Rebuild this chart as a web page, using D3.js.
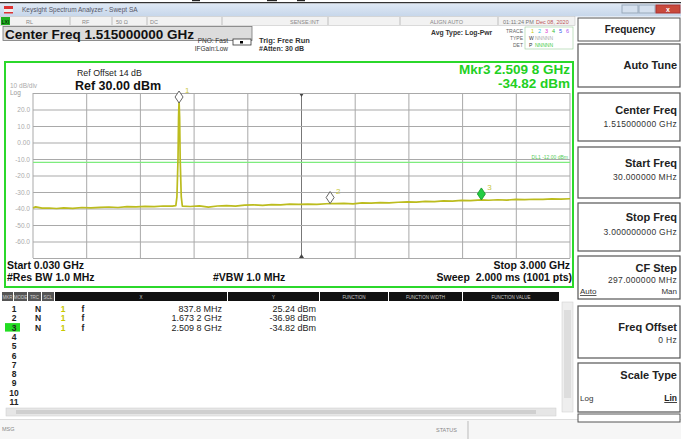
<!DOCTYPE html>
<html><head><meta charset="utf-8">
<script src="https://cdn.jsdelivr.net/npm/d3@7"></script>
<style>
html,body{margin:0;padding:0;background:#fff;}
svg{display:block;font-family:"Liberation Sans",Arial,sans-serif;}
</style></head>
<body>
<script>
// ---------- data ----------
const traceFreqGHz = [0.030,0.045,0.080,0.120,0.160,0.200,0.250,0.300,0.350,0.400,0.450,0.500,0.550,0.600,0.650,0.700,0.750,0.800,0.820,0.826,0.832,0.835,0.8378,0.841,0.844,0.850,0.856,0.900,0.950,1.000,1.050,1.100,1.150,1.200,1.250,1.300,1.350,1.400,1.450,1.500,1.550,1.600,1.6732,1.700,1.750,1.800,1.850,1.900,1.950,2.000,2.050,2.100,2.150,2.200,2.250,2.300,2.350,2.400,2.450,2.5098,2.550,2.600,2.650,2.700,2.750,2.800,2.850,2.900,2.950,3.000];
const traceDbm = [-39.6,-39.0,-39.8,-39.7,-40.0,-39.6,-39.9,-39.4,-39.6,-39.3,-39.1,-39.4,-38.9,-39.0,-38.7,-38.9,-38.5,-38.6,-38.3,-33.0,-10.0,15.0,25.24,15.0,-10.0,-33.0,-38.6,-38.8,-38.4,-39.2,-38.5,-38.3,-38.6,-38.0,-37.8,-38.1,-37.6,-37.8,-37.4,-37.5,-37.3,-37.5,-36.98,-37.1,-36.9,-37.2,-36.6,-36.8,-36.4,-36.6,-36.2,-36.0,-36.1,-35.7,-35.8,-35.4,-35.5,-35.1,-35.2,-34.82,-35.0,-34.7,-34.9,-34.5,-34.6,-34.4,-34.5,-34.2,-34.3,-34.1];
const markerNums = [1,2,3];
const markerFreqGHz = [0.8378,1.6732,2.5098];
const markerDbm = [25.24,-36.98,-34.82];
const markerXText = ["837.8 MHz","1.673 2 GHz","2.509 8 GHz"];
const markerYText = ["25.24 dBm","-36.98 dBm","-34.82 dBm"];
const yTickValues = [30,20,10,0,-10,-20,-30,-40,-50,-60,-70];
const yTickLabels = ["","20.0","10.0","0.00","-10.0","-20.0","-30.0","-40.0","-50.0","-60.0",""];
const startGHz = 0.030, stopGHz = 3.000;
const displayLineDbm = -12;
const softkeys = [
  {label:"Auto Tune", value:""},
  {label:"Center Freq", value:"1.515000000 GHz"},
  {label:"Start Freq", value:"30.000000 MHz"},
  {label:"Stop Freq", value:"3.000000000 GHz"},
  {label:"CF Step", value:"297.000000 MHz"},
  {label:"Freq Offset", value:"0 Hz"},
  {label:"Scale Type", value:""}
];
const tableHeaders = ["MKR","MODE","TRC","SCL","X","Y","FUNCTION","FUNCTION WIDTH","FUNCTION VALUE"];

// ---------- drawing ----------
const W = 681, H = 439;
const svg = d3.select("body").append("svg").attr("width",W).attr("height",H);
svg.append("rect").attr("width",W).attr("height",H).attr("fill","#fff");

// top document marks
svg.append("rect").attr("x",0).attr("y",2).attr("width",W).attr("height",1.5).attr("fill","#333");
[[192,8],[267,10],[297,8]].forEach(d=>svg.append("rect").attr("x",d[0]).attr("y",0).attr("width",d[1]).attr("height",1.2).attr("fill","#222"));

// title bar
const g0 = svg.append("defs").append("linearGradient").attr("id","tb").attr("x1",0).attr("x2",0).attr("y1",0).attr("y2",1);
g0.append("stop").attr("offset","0").attr("stop-color","#dfe9f5");
g0.append("stop").attr("offset","1").attr("stop-color","#c6d6ea");
svg.append("rect").attr("x",0).attr("y",3.5).attr("width",W).attr("height",13).attr("fill","url(#tb)");
svg.append("rect").attr("x",4).attr("y",6).attr("width",9).attr("height",3).attr("fill","#d33");
svg.append("rect").attr("x",4).attr("y",9).attr("width",9).attr("height",3).attr("fill","#eee");
svg.append("rect").attr("x",4).attr("y",12).attr("width",9).attr("height",1.5).attr("fill","#d33");
svg.append("text").attr("x",22).attr("y",12).attr("font-size",6.5).attr("fill","#556").text("Keysight Spectrum Analyzer - Swept SA");
svg.append("rect").attr("x",622).attr("y",5).attr("width",16).attr("height",8).attr("fill","#d5e0ee").attr("stroke","#9ab");
svg.append("rect").attr("x",639).attr("y",5).attr("width",16).attr("height",8).attr("fill","#d5e0ee").attr("stroke","#9ab");
svg.append("rect").attr("x",656).attr("y",5).attr("width",24).attr("height",8).attr("fill","#c9493b").attr("stroke","#a33");
svg.append("text").attr("x",668).attr("y",11.5).attr("text-anchor","middle").attr("font-size",7).attr("font-weight","bold").attr("fill","#fff").text("x");

// status row
svg.append("rect").attr("x",0).attr("y",16.5).attr("width",575).attr("height",9).attr("fill","#f2f2f2").attr("stroke","#bbb").attr("stroke-width",0.5);
svg.append("rect").attr("x",1).attr("y",17).attr("width",9).attr("height",8).attr("fill","#1fae1f");
svg.append("text").attr("x",5.5).attr("y",23.5).attr("text-anchor","middle").attr("font-size",5).attr("fill","#000").text("LXI");
[[70],[112],[147],[222],[328],[400],[498]].forEach(d=>svg.append("line").attr("x1",d[0]).attr("x2",d[0]).attr("y1",17).attr("y2",25).attr("stroke","#aaa").attr("stroke-width",0.7));
const srow = [[26,"RL"],[82,"RF"],[116,"50 Ω"],[150,"DC"],[290,"SENSE:INT"],[430,"ALIGN AUTO"]];
srow.forEach(d=>svg.append("text").attr("x",d[0]).attr("y",23.5).attr("font-size",5.5).attr("fill","#888").text(d[1]));
svg.append("text").attr("x",503).attr("y",23.5).attr("font-size",5.5).attr("fill","#777").text("01:11:24 PM");
svg.append("text").attr("x",536).attr("y",23.5).attr("font-size",5.5).attr("fill","#b55").text("Dec 08, 2020");

// Center freq box
svg.append("rect").attr("x",3).attr("y",26.5).attr("width",249).attr("height",14).attr("fill","#dcdcdc").attr("stroke","#777").attr("stroke-width",0.8);
svg.append("text").attr("x",5).attr("y",38.5).attr("font-size",13.5).attr("font-weight","bold").attr("fill","#111").text("Center Freq 1.515000000 GHz");

svg.append("text").attr("x",228).attr("y",43).attr("text-anchor","end").attr("font-size",6.5).attr("fill","#333").text("PNO: Fast");
svg.append("text").attr("x",228).attr("y",50.5).attr("text-anchor","end").attr("font-size",6.5).attr("fill","#333").text("IFGain:Low");
svg.append("rect").attr("x",233).attr("y",39).attr("width",18).attr("height",6).attr("fill","#fff").attr("stroke","#333").attr("stroke-width",0.8);
svg.append("rect").attr("x",240).attr("y",41).attr("width",3).attr("height",2.5).attr("fill","#000");
svg.append("text").attr("x",259).attr("y",43).attr("font-size",7.5).attr("font-weight","bold").attr("fill","#333").text("Trig: Free Run");
svg.append("text").attr("x",259).attr("y",51).attr("font-size",7).attr("font-weight","bold").attr("fill","#333").text("#Atten: 30 dB");
svg.append("text").attr("x",431).attr("y",35).attr("font-size",6.8).attr("font-weight","bold").attr("fill","#333").text("Avg Type: Log-Pwr");

// trace indicator
svg.append("text").attr("x",523).attr("y",33).attr("text-anchor","end").attr("font-size",5).attr("fill","#666").text("TRACE");
svg.append("text").attr("x",523).attr("y",40).attr("text-anchor","end").attr("font-size",5).attr("fill","#666").text("TYPE");
svg.append("text").attr("x",523).attr("y",47).attr("text-anchor","end").attr("font-size",5).attr("fill","#666").text("DET");
svg.append("rect").attr("x",525).attr("y",27).attr("width",48).attr("height",22).attr("fill","#fff").attr("stroke","#9c9").attr("stroke-width",0.6);
const tcol = ["#c8c800","#22bbdd","#dd33cc","#33bb33","#3355ee","#aa55ee"];
tcol.forEach((c,i)=>svg.append("text").attr("x",531+i*7).attr("y",33).attr("font-size",5.5).attr("fill",c).text(i+1));
svg.append("text").attr("x",529).attr("y",40).attr("font-size",5).attr("fill","#333").text("W");
svg.append("text").attr("x",535).attr("y",40).attr("font-size",5).attr("fill","#aaa").text("NNNNN");
svg.append("text").attr("x",529).attr("y",47).attr("font-size",5).attr("fill","#333").text("P");
svg.append("text").attr("x",535).attr("y",47).attr("font-size",5).attr("fill","#4c4").text("NNNNN");

// ---------- plot ----------
const x = d3.scaleLinear().domain([startGHz,stopGHz]).range([33,570]);
const y = d3.scaleLinear().domain([-70,30]).range([258,93]);

svg.append("rect").attr("x",5).attr("y",62).attr("width",568).attr("height",225).attr("fill","none").attr("stroke","#2bd82b").attr("stroke-width",2);

svg.append("text").attr("x",77).attr("y",76).attr("font-size",8.8).attr("fill","#222").text("Ref Offset 14 dB");
svg.append("text").attr("x",75).attr("y",90).attr("font-size",12.5).attr("font-weight","bold").attr("fill","#111").text("Ref 30.00 dBm");
svg.append("text").attr("x",10).attr("y",88).attr("font-size",6.5).attr("fill","#aaa").text("10 dB/div");
svg.append("text").attr("x",10).attr("y",95).attr("font-size",6.5).attr("fill","#999").text("Log");

svg.append("text").attr("x",570).attr("y",74).attr("text-anchor","end").attr("font-size",13.5).attr("font-weight","bold").attr("fill","#22d022").text("Mkr3 2.509 8 GHz");
svg.append("text").attr("x",570).attr("y",88).attr("text-anchor","end").attr("font-size",13.5).attr("font-weight","bold").attr("fill","#22d022").text("-34.82 dBm");

// vertical grid (10 divisions)
const xDiv = d3.range(0,11).map(i=>startGHz + i*(stopGHz-startGHz)/10);
svg.append("g").selectAll("line").data(xDiv).join("line")
  .attr("x1",d=>x(d)).attr("x2",d=>x(d)).attr("y1",y(30)).attr("y2",y(-70))
  .attr("stroke",(d,i)=>i===5?"#777":"#a9a9a9").attr("stroke-width",1);
const cx = x(xDiv[5]);
svg.append("path").attr("d",`M${cx-2.5},${y(30)}L${cx+2.5},${y(30)}L${cx},${y(30)+4}Z`).attr("fill","#444");
svg.append("path").attr("d",`M${cx-2.5},${y(-70)}L${cx+2.5},${y(-70)}L${cx},${y(-70)-4}Z`).attr("fill","#444");

// y axis with horizontal grid
const yAxis = d3.axisLeft(y).tickValues(yTickValues).tickSize(-(570-33)).tickPadding(3)
  .tickFormat((d,i)=>yTickLabels[i]);
const ga = svg.append("g").attr("transform","translate(33,0)").call(yAxis);
ga.select(".domain").remove();
ga.selectAll(".tick line").attr("stroke","#a9a9a9").attr("stroke-width",1);
ga.selectAll(".tick text").attr("font-size",6.5).attr("fill","#aaa").attr("font-family","Liberation Sans, Arial, sans-serif");

// display line
svg.append("line").attr("x1",33).attr("x2",570).attr("y1",y(displayLineDbm)).attr("y2",y(displayLineDbm)).attr("stroke","#7eec7e").attr("stroke-width",1.3);
svg.append("text").attr("x",568).attr("y",y(displayLineDbm)-3).attr("text-anchor","end").attr("font-size",5).attr("fill","#5c5").text("DL1 -12.00 dBm");

// trace
const pts = traceFreqGHz.map((f,i)=>[f,traceDbm[i]]);
svg.append("path").datum(pts)
  .attr("d",d3.line().x(d=>x(d[0])).y(d=>y(d[1])))
  .attr("fill","none").attr("stroke","#bcbc1e").attr("stroke-width",1.7).attr("stroke-linejoin","round");

// markers
markerNums.forEach((n,i)=>{
  const px = x(markerFreqGHz[i]), py = Math.max(y(markerDbm[i]), y(30)+10);
  const active = (n===3);
  const h = 12, w = 8;
  svg.append("path")
    .attr("d",`M${px},${py}L${px+w/2},${py-h/2}L${px},${py-h}L${px-w/2},${py-h/2}Z`)
    .attr("fill",active?"#22cc44":"#fff").attr("stroke",active?"#1a9a2a":"#555").attr("stroke-width",0.9);
  svg.append("text").attr("x",px+6).attr("y",py-h+2).attr("font-size",8).attr("fill","#c8c840").text(n);
});

// bottom plot annotations
svg.append("text").attr("x",7).attr("y",269).attr("font-size",10.5).attr("font-weight","bold").attr("fill","#111").text("Start 0.030 GHz");
svg.append("text").attr("x",7).attr("y",281).attr("font-size",10.5).attr("font-weight","bold").attr("fill","#111").text("#Res BW 1.0 MHz");
svg.append("text").attr("x",213).attr("y",281).attr("font-size",10.5).attr("font-weight","bold").attr("fill","#111").text("#VBW 1.0 MHz");
svg.append("text").attr("x",570).attr("y",269).attr("text-anchor","end").attr("font-size",10.5).attr("font-weight","bold").attr("fill","#111").text("Stop 3.000 GHz");
svg.append("text").attr("x",572).attr("y",281).attr("text-anchor","end").attr("font-size",10.5).attr("font-weight","bold").attr("fill","#111").attr("xml:space","preserve").text("Sweep  2.000 ms (1001 pts)");

// ---------- marker table ----------
const colX = [2,14,28,42,55,228,320,389,463,560];
tableHeaders.forEach((t,i)=>{
  const x0 = colX[i], x1 = colX[i+1]-1;
  svg.append("rect").attr("x",x0).attr("y",292).attr("width",x1-x0).attr("height",9).attr("fill",i<4?"#555":"#111");
  svg.append("text").attr("x",(x0+x1)/2).attr("y",298.5).attr("text-anchor","middle").attr("font-size",4.5).attr("fill","#ccc").text(t);
});
d3.range(1,12).forEach(n=>{
  const ry = 312 + (n-1)*9.3;
  if(n===3) svg.append("rect").attr("x",5).attr("y",ry-7.5).attr("width",15).attr("height",8.5).attr("fill","#22dd22");
  svg.append("text").attr("x",14).attr("y",ry).attr("text-anchor","middle").attr("font-size",8.5).attr("font-weight","bold").attr("fill","#222").text(n);
});
markerNums.forEach((n,i)=>{
  const ry = 312 + i*9.3;
  svg.append("text").attr("x",38).attr("y",ry).attr("text-anchor","middle").attr("font-size",8.5).attr("font-weight","bold").attr("fill","#222").text("N");
  svg.append("text").attr("x",63).attr("y",ry).attr("text-anchor","middle").attr("font-size",8.5).attr("font-weight","bold").attr("fill","#c8c800").text("1");
  svg.append("text").attr("x",83).attr("y",ry).attr("text-anchor","middle").attr("font-size",8.5).attr("font-weight","bold").attr("fill","#222").text("f");
  svg.append("text").attr("x",222).attr("y",ry).attr("text-anchor","end").attr("font-size",9).attr("fill","#222").text(markerXText[i]);
  svg.append("text").attr("x",316).attr("y",ry).attr("text-anchor","end").attr("font-size",9).attr("fill","#222").text(markerYText[i]);
});
// scrollbars
svg.append("rect").attr("x",562).attr("y",302).attr("width",11).attr("height",110).attr("fill","#eee").attr("stroke","#ccc").attr("stroke-width",0.5);
svg.append("rect").attr("x",564).attr("y",310).attr("width",7).attr("height",88).attr("fill","#ddd");
svg.append("rect").attr("x",6).attr("y",408).attr("width",550).attr("height",8).attr("fill","#e6e6e6").attr("stroke","#ccc").attr("stroke-width",0.5);
svg.append("rect").attr("x",16).attr("y",410).attr("width",520).attr("height",4).attr("fill","#cfcfcf");

// bottom status bar
svg.append("line").attr("x1",0).attr("x2",W).attr("y1",420).attr("y2",420).attr("stroke","#bbb");
svg.append("rect").attr("x",0).attr("y",420).attr("width",W).attr("height",19).attr("fill","#f6f6f6");
svg.append("text").attr("x",2).attr("y",431).attr("font-size",5.5).attr("fill","#888").text("MSG");
svg.append("text").attr("x",436).attr("y",432).attr("font-size",5.5).attr("fill","#888").text("STATUS");
svg.append("line").attr("x1",468).attr("x2",468).attr("y1",421).attr("y2",439).attr("stroke","#bbb");

// ---------- softkey panel ----------
svg.append("rect").attr("x",578).attr("y",18).attr("width",102).attr("height",23).attr("fill","#fff").attr("stroke","#555").attr("stroke-width",1);
svg.append("text").attr("x",630).attr("y",33).attr("text-anchor","middle").attr("font-size",10).attr("font-weight","bold").attr("fill","#222").text("Frequency");
const boxes = [[44,87],[93,141],[147,198],[203,251],[256,299],[306,358],[363,412]];
const labelY = [69,114,167,221,272,331,379];
const valueY = [0,127,180,235,283,343,0];
boxes.forEach((b,i)=>{
  svg.append("rect").attr("x",578).attr("y",b[0]).attr("width",102).attr("height",b[1]-b[0]).attr("fill","#fff").attr("stroke","#555").attr("stroke-width",1.2);
  const sk = softkeys[i];
  svg.append("text").attr("x",677).attr("y",labelY[i]).attr("text-anchor","end").attr("font-size",11).attr("font-weight","bold").attr("fill","#222").text(sk.label);
  if(sk.value) svg.append("text").attr("x",677).attr("y",valueY[i]).attr("text-anchor","end").attr("font-size",8.5).attr("letter-spacing",0.3).attr("fill","#333").text(sk.value);
});
svg.append("text").attr("x",580).attr("y",294).attr("font-size",8).attr("fill","#333").attr("text-decoration","underline").text("Auto");
svg.append("text").attr("x",677).attr("y",294).attr("text-anchor","end").attr("font-size",8).attr("fill","#333").text("Man");
svg.append("text").attr("x",580).attr("y",401).attr("font-size",8).attr("fill","#333").text("Log");
svg.append("text").attr("x",677).attr("y",401).attr("text-anchor","end").attr("font-size",8.5).attr("font-weight","bold").attr("fill","#222").attr("text-decoration","underline").text("Lin");
svg.append("rect").attr("x",578).attr("y",414).attr("width",102).attr("height",8).attr("fill","#fff").attr("stroke","#555").attr("stroke-width",1);
</script>
</body></html>
